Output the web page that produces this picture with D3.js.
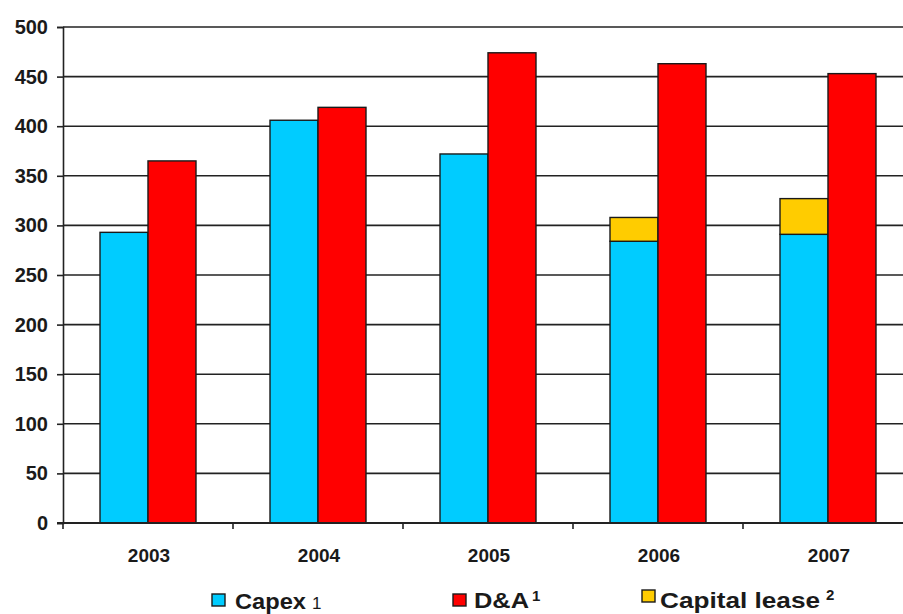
<!DOCTYPE html>
<html>
<head>
<meta charset="utf-8">
<script src="https://cdn.jsdelivr.net/npm/d3@7"></script>
<style>
  body { margin: 0; background: #fff; }
  svg text { font-family: "Liberation Sans", Arial, sans-serif; fill: #1a1a1a; }
</style>
</head>
<body>
<div id="chart"></div>
<script>
//chart data
let years = ["2003", "2004", "2005", "2006", "2007"];
let capex = [293, 406, 372, 284, 291];
let capitalLease = [0, 0, 0, 24, 36];
let da = [365, 419, 474, 463, 453];
let yTicks = [0, 50, 100, 150, 200, 250, 300, 350, 400, 450, 500];

let width = 903, height = 614;
let colors = { capex: "#00ccff", da: "#ff0000", lease: "#ffcc00" };

let svg = d3.select("#chart")
            .append("svg")
            .attr("width", width)
            .attr("height", height);

//scales: plot runs off the right edge like the original
let x0 = d3.scaleBand()
           .domain(years)
           .range([63, 913])
           .paddingInner(0.4353)
           .paddingOuter(0.4353 / 2);

let x1 = d3.scaleBand()
           .domain(["capex", "da"])
           .range([0, x0.bandwidth()]);

let y = d3.scaleLinear()
          .domain([0, 500])
          .range([523, 27]);

//gridlines
svg.append("g")
   .selectAll("line")
   .data(yTicks.filter(d => d > 0))
   .enter()
   .append("line")
   .attr("x1", 63)
   .attr("x2", width)
   .attr("y1", d => y(d))
   .attr("y2", d => y(d))
   .attr("stroke", "#222")
   .attr("stroke-width", 1.6);

//table rows for stacking capex + capital lease
let rows = years.map((yr, i) => ({ year: yr, capex: capex[i], lease: capitalLease[i], da: da[i] }));
let stacked = d3.stack().keys(["capex", "lease"])(rows);

let bars = svg.append("g");
stacked.forEach(layer => {
  bars.selectAll(null)
      .data(layer.filter(d => d[1] - d[0] > 0))
      .enter()
      .append("rect")
      .attr("x", d => x0(d.data.year) + x1("capex"))
      .attr("y", d => y(d[1]))
      .attr("width", x1.bandwidth())
      .attr("height", d => y(d[0]) - y(d[1]))
      .attr("fill", colors[layer.key])
      .attr("stroke", "#1a1a1a")
      .attr("stroke-width", 1.4);
});

bars.selectAll(null)
    .data(rows)
    .enter()
    .append("rect")
    .attr("x", d => x0(d.year) + x1("da"))
    .attr("y", d => y(d.da))
    .attr("width", x1.bandwidth())
    .attr("height", d => y(0) - y(d.da))
    .attr("fill", colors.da)
    .attr("stroke", "#1a1a1a")
    .attr("stroke-width", 1.4);

//y axis
let yAxis = svg.append("g")
               .attr("transform", "translate(63,0)")
               .call(d3.axisLeft(y).tickValues(yTicks).tickSize(6).tickPadding(9));
yAxis.select(".domain").attr("stroke", "#222").attr("stroke-width", 1.6);
yAxis.selectAll(".tick line").attr("stroke", "#222").attr("stroke-width", 1.6);
yAxis.selectAll("text")
     .style("font-size", "20px")
     .style("font-weight", "bold")
     .attr("fill", "#1a1a1a");

//x axis (ticks sit between the year groups)
let boundaries = years.slice(1).map(d => x0(d) - x0.step() * x0.paddingInner() / 2);
let xAxis = svg.append("g").attr("transform", "translate(0,523)");
xAxis.append("line")
     .attr("x1", 57).attr("x2", width)
     .attr("y1", 0).attr("y2", 0)
     .attr("stroke", "#222").attr("stroke-width", 1.8);
xAxis.selectAll(".xt")
     .data([63].concat(boundaries))
     .enter()
     .append("line")
     .attr("class", "xt")
     .attr("x1", d => d).attr("x2", d => d)
     .attr("y1", 0).attr("y2", 6)
     .attr("stroke", "#222").attr("stroke-width", 1.6);
xAxis.selectAll("text")
     .data(years)
     .enter()
     .append("text")
     .attr("x", d => x0(d) + x0.bandwidth() / 2 + 1)
     .attr("y", 39)
     .style("text-anchor", "middle")
     .style("font-size", "19px")
     .style("font-weight", "bold")
     .text(d => d);

//legend
let legend = svg.append("g");
let legendItems = [
  { label: "Capex", note: "1", color: colors.capex, sx: 212, sy: 594, tx: 235, ty: 609, len: 71, gap: 6, noteRaise: 0, noteBold: false },
  { label: "D&A", note: "1", color: colors.da, sx: 453, sy: 594, tx: 474, ty: 608, len: 55, gap: 3, noteRaise: 7, noteBold: true },
  { label: "Capital lease", note: "2", color: colors.lease, sx: 642, sy: 590, tx: 660, ty: 608, len: 160, gap: 6, noteRaise: 8, noteBold: true }
];
legendItems.forEach(d => {
  legend.append("rect")
        .attr("x", d.sx).attr("y", d.sy)
        .attr("width", 13).attr("height", 12)
        .attr("fill", d.color)
        .attr("stroke", "#1a1a1a")
        .attr("stroke-width", 1.4);
  legend.append("text")
        .attr("x", d.tx).attr("y", d.ty)
        .attr("textLength", d.len)
        .attr("lengthAdjust", "spacingAndGlyphs")
        .style("font-size", "22px")
        .style("font-weight", "bold")
        .text(d.label);
  legend.append("text")
        .attr("x", d.tx + d.len + d.gap).attr("y", d.ty - d.noteRaise)
        .style("font-size", d.noteBold ? "15px" : "17px")
        .style("font-weight", d.noteBold ? "bold" : "normal")
        .attr("fill", d.noteBold ? "#1a1a1a" : "#555")
        .text(d.note);
});
</script>
</body>
</html>
